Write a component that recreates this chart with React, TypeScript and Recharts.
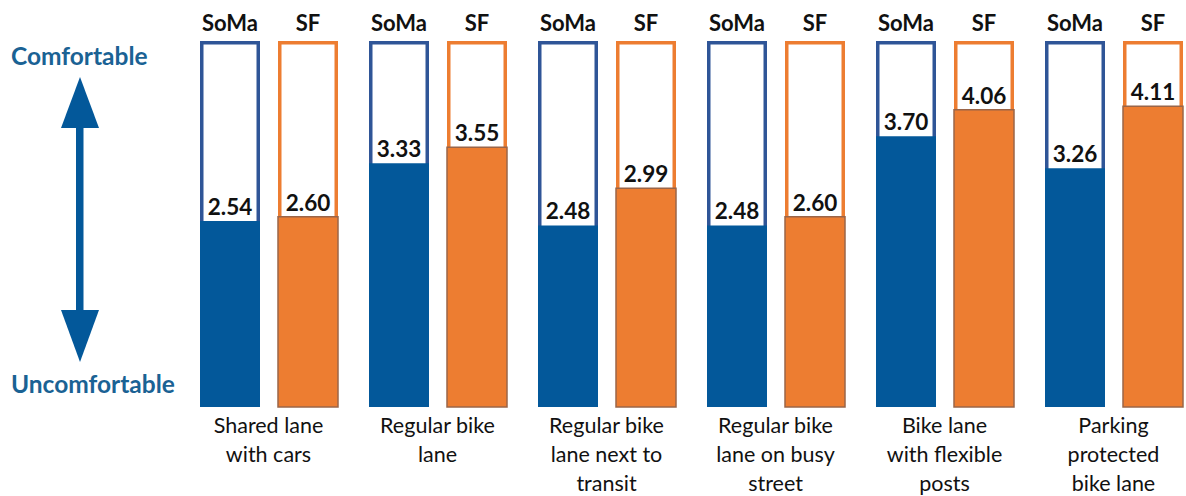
import React from "react";
import { BarChart, Bar, XAxis, YAxis, LabelList } from "recharts";

const categories = [
  "Shared lane with cars",
  "Regular bike lane",
  "Regular bike lane next to transit",
  "Regular bike lane on busy street",
  "Bike lane with flexible posts",
  "Parking protected bike lane",
];
const categoryLines = [
  ["Shared lane", "with cars"],
  ["Regular bike", "lane"],
  ["Regular bike", "lane next to", "transit"],
  ["Regular bike", "lane on busy", "street"],
  ["Bike lane", "with flexible", "posts"],
  ["Parking", "protected", "bike lane"],
];
const somaValues = [2.54, 3.33, 2.48, 2.48, 3.7, 3.26];
const sfValues = [2.6, 3.55, 2.99, 2.6, 4.06, 4.11];
const seriesNames = ["SoMa", "SF"];
const topLabel = "Comfortable";
const bottomLabel = "Uncomfortable";

const data = categories.map((c, i) => ({
  name: c,
  soma: somaValues[i],
  sf: sfValues[i],
}));

const FONT = "Lato, 'Open Sans', sans-serif";
const BLUE = "#03589a";
const BLUE_OUT = "#2f5597";
const ORANGE = "#ed7d31";
const ORANGE_EDGE = "#9a6548";
const TEXT_BLUE = "#1a6294";
const TOP = 41;

const CategoryTick = (props: any) => {
  const { x, y, payload } = props;
  const lines = categoryLines[payload.index] || [];
  return (
    <g>
      {lines.map((l: string, i: number) => (
        <text
          key={i}
          x={x}
          y={y + 26 + i * 29}
          textAnchor="middle"
          fontFamily={FONT}
          fontSize={21.5}
          fill="#111"
        >
          {l}
        </text>
      ))}
    </g>
  );
};

const makeBackground = (stroke: string) => (p: any) => {
  const sw = 3.5;
  return (
    <rect
      key={`bg-${p.index}`}
      x={p.x + sw / 2}
      y={p.y + sw / 2}
      width={p.width - sw}
      height={p.height - sw}
      fill="#fff"
      stroke={stroke}
      strokeWidth={sw}
    />
  );
};

const makeSeriesLabel = (name: string) => (p: any) => {
  const { x, width } = p;
  return (
    <text
      x={x + width / 2}
      y={TOP - 10}
      textAnchor="middle"
      fontFamily={FONT}
      fontWeight={700}
      fontSize={22}
      fill="#111"
    >
      {name}
    </text>
  );
};

const valueLabel = (p: any) => {
  const { x, y, width, value } = p;
  return (
    <text
      x={x + width / 2}
      y={y - 6}
      textAnchor="middle"
      fontFamily={FONT}
      fontWeight={700}
      fontSize={22.5}
      fill="#111"
    >
      {Number(value).toFixed(2)}
    </text>
  );
};

export default function App() {
  return (
    <div
      style={{
        position: "absolute",
        left: 0,
        top: 0,
        width: 1186,
        height: 496,
        overflow: "hidden",
        background: "#fff",
      }}
    >
      <svg
        width={200}
        height={496}
        style={{ position: "absolute", left: 0, top: 0 }}
      >
        <text
          x={11}
          y={65}
          fontFamily={FONT}
          fontWeight={700}
          fontSize={24.5}
          fill={TEXT_BLUE}
        >
          {topLabel}
        </text>
        <text
          x={11}
          y={393}
          fontFamily={FONT}
          fontWeight={700}
          fontSize={24.5}
          fill={TEXT_BLUE}
        >
          {bottomLabel}
        </text>
        <rect x={76} y={126} width={7.5} height={186} fill={BLUE} />
        <polygon points="61,128 99,128 80,77" fill={BLUE} />
        <polygon points="61,310 99,310 80,362" fill={BLUE} />
      </svg>
      <div style={{ position: "absolute", left: 0, top: 0 }}>
        <BarChart
          width={1200}
          height={496}
          data={data}
          margin={{ top: TOP, right: 2, bottom: 0, left: 184 }}
          barSize={60}
          barGap={18}
        >
          <XAxis
            dataKey="name"
            axisLine={false}
            tickLine={false}
            tickSize={0}
            tickMargin={0}
            height={89}
            interval={0}
            tick={<CategoryTick />}
          />
          <YAxis hide domain={[0, 5]} />
          <Bar
            dataKey="soma"
            fill={BLUE}
            isAnimationActive={false}
            background={makeBackground(BLUE_OUT)}
          >
            <LabelList dataKey="soma" content={makeSeriesLabel(seriesNames[0])} />
            <LabelList dataKey="soma" content={valueLabel} />
          </Bar>
          <Bar
            dataKey="sf"
            fill={ORANGE}
            stroke={ORANGE_EDGE}
            strokeWidth={1.5}
            isAnimationActive={false}
            background={makeBackground(ORANGE)}
          >
            <LabelList dataKey="sf" content={makeSeriesLabel(seriesNames[1])} />
            <LabelList dataKey="sf" content={valueLabel} />
          </Bar>
        </BarChart>
      </div>
    </div>
  );
}
